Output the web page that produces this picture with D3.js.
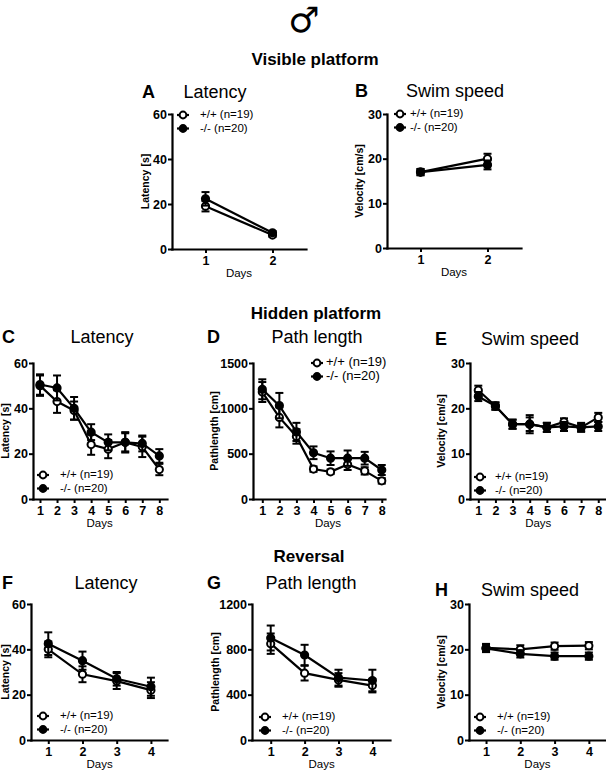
<!DOCTYPE html>
<html>
<head>
<meta charset="utf-8">
<script src="https://cdn.jsdelivr.net/npm/d3@7"></script>
<style>
body { margin: 0; background: #fff; }
text { font-family: "Liberation Sans", Arial, Helvetica, sans-serif; fill: #000; }
</style>
</head>
<body>
<div id="chart"></div>
<script>
// days
var days2 = [1, 2],
    days4 = [1, 2, 3, 4],
    days8 = [1, 2, 3, 4, 5, 6, 7, 8];

var legendLabels = ["+/+ (n=19)", "-/- (n=20)"];

// A - visible platform latency
var visLatWT = [19, 6.2],   visLatWTErr = [2.3, 0.8];
var visLatKO = [22.3, 7.2], visLatKOErr = [3, 0.8];
// B - visible platform swim speed
var visSpdWT = [17, 20],    visSpdWTErr = [0.7, 1.1];
var visSpdKO = [17, 18.6],  visSpdKOErr = [0.7, 1];
// C - hidden platform latency
var hidLatWT = [50, 43, 39, 24, 22, 25, 23, 13],     hidLatWTErr = [4.5, 5, 4, 4.5, 4, 4.5, 4.5, 2.5];
var hidLatKO = [50.5, 49, 40, 29.5, 25, 25, 24.5, 19], hidLatKOErr = [4.5, 5.5, 5, 3.5, 3.5, 4, 3.5, 3];
// D - hidden platform path length
var hidPathWT = [1180, 900, 690, 330, 300, 380, 310, 200],  hidPathWTErr = [110, 110, 80, 30, 25, 60, 40, 30];
var hidPathKO = [1210, 1030, 740, 510, 450, 450, 450, 320], hidPathKOErr = [110, 140, 100, 70, 75, 85, 70, 55];
// E - hidden platform swim speed
var hidSpdWT = [24, 20.5, 16.5, 16.5, 15.8, 17, 15.8, 18],   hidSpdWTErr = [1, 0.8, 1, 1.5, 1, 0.8, 0.8, 1];
var hidSpdKO = [22.6, 20.5, 16.5, 16.5, 15.8, 16, 15.8, 16], hidSpdKOErr = [1, 0.8, 1, 2, 1, 1, 1, 1];
// F - reversal latency
var revLatWT = [40, 29, 26, 22],     revLatWTErr = [3.5, 3.5, 3.5, 3.5];
var revLatKO = [42.5, 35, 27, 23.5], revLatKOErr = [5, 4, 3, 4];
// G - reversal path length
var revPathWT = [850, 590, 530, 480], revPathWTErr = [90, 65, 60, 60];
var revPathKO = [900, 750, 550, 525], revPathKOErr = [110, 90, 70, 95];
// H - reversal swim speed
var revSpdWT = [20.3, 20, 20.7, 20.8], revSpdWTErr = [0.9, 0.9, 0.8, 0.8];
var revSpdKO = [20.2, 19, 18.5, 18.5], revSpdKOErr = [0.8, 0.8, 0.8, 0.8];

// y tick labels
var ticksLat = [0, 20, 40, 60],
    ticksSpd = [0, 10, 20, 30],
    ticksHidPath = [0, 500, 1000, 1500],
    ticksRevPath = [0, 400, 800, 1200];

var w = 606, h = 772;

var svg = d3.select("#chart")
    .append("svg")
    .attr("width", w)
    .attr("height", h);

// male symbol and section headers
svg.append("text").text("\u2642")
    .attr("x", 304).attr("y", 32)
    .attr("text-anchor", "middle")
    .style("font-family", "DejaVu Sans")
    .style("font-size", "35px");

var headers = [
    { t: "Visible platform", x: 315, y: 65 },
    { t: "Hidden platform", x: 316, y: 319 },
    { t: "Reversal", x: 309, y: 562 }
];
svg.selectAll(".hdr").data(headers).enter().append("text")
    .attr("class", "hdr")
    .attr("x", function (d) { return d.x; })
    .attr("y", function (d) { return d.y; })
    .attr("text-anchor", "middle")
    .style("font-weight", "bold")
    .style("font-size", "17px")
    .text(function (d) { return d.t; });

// panel layout
var panels = [
    { letter: "A", title: "Latency", ylab: "Latency [s]", days: days2, yticks: ticksLat, yd: [0, 60],
      wt: visLatWT, wtErr: visLatWTErr, ko: visLatKO, koErr: visLatKOErr,
      x0: 172, x1: 306, yt: 114, yb: 249, xd: [0.5, 2.5], dx: 0,
      lx: 142, tx: 215, ty: 98, labx: 146, leg: [183, 115, 200, 11.5] },
    { letter: "B", title: "Swim speed", ylab: "Velocity [cm/s]", days: days2, yticks: ticksSpd, yd: [0, 30],
      wt: visSpdWT, wtErr: visSpdWTErr, ko: visSpdKO, koErr: visSpdKOErr,
      x0: 387, x1: 521, yt: 114, yb: 248, xd: [0.5, 2.5], dx: 0,
      lx: 355, tx: 455, ty: 97, labx: 360, leg: [400, 114, 410, 11.5] },
    { letter: "C", title: "Latency", ylab: "Latency [s]", days: days8, yticks: ticksLat, yd: [0, 60],
      wt: hidLatWT, wtErr: hidLatWTErr, ko: hidLatKO, koErr: hidLatKOErr,
      x0: 33, x1: 167, yt: 363, yb: 499, xd: [0.59, 8.45], dx: 0,
      lx: 2, tx: 102, ty: 343, labx: 6.5, leg: [43, 475, 60, 11.5] },
    { letter: "D", title: "Path length", ylab: "Pathlength [cm]", days: days8, yticks: ticksHidPath, yd: [0, 1500],
      wt: hidPathWT, wtErr: hidPathWTErr, ko: hidPathKO, koErr: hidPathKOErr,
      x0: 253, x1: 385, yt: 363, yb: 499, xd: [0.455, 8.19], dx: 6,
      lx: 207, tx: 317, ty: 343, labx: 215, leg: [317, 363, 326, 13] },
    { letter: "E", title: "Swim speed", ylab: "Velocity [cm/s]", days: days8, yticks: ticksSpd, yd: [0, 30],
      wt: hidSpdWT, wtErr: hidSpdWTErr, ko: hidSpdKO, koErr: hidSpdKOErr,
      x0: 470, x1: 607, yt: 363, yb: 499, xd: [0.516, 8.51], dx: 0,
      lx: 435, tx: 530, ty: 345, labx: 442, leg: [480, 477, 495, 11.5] },
    { letter: "F", title: "Latency", ylab: "Latency [s]", days: days4, yticks: ticksLat, yd: [0, 60],
      wt: revLatWT, wtErr: revLatWTErr, ko: revLatKO, koErr: revLatKOErr,
      x0: 31, x1: 167, yt: 604, yb: 740, xd: [0.495, 4.47], dx: 0,
      lx: 2, tx: 106, ty: 589, labx: 6.5, leg: [43, 716, 60, 11.5] },
    { letter: "G", title: "Path length", ylab: "Pathlength [cm]", days: days4, yticks: ticksRevPath, yd: [0, 1200],
      wt: revPathWT, wtErr: revPathWTErr, ko: revPathKO, koErr: revPathKOErr,
      x0: 252, x1: 390, yt: 604, yb: 740, xd: [0.448, 4.52], dx: 0,
      lx: 207, tx: 311, ty: 589, labx: 216, leg: [265, 717, 282, 11.5] },
    { letter: "H", title: "Swim speed", ylab: "Velocity [cm/s]", days: days4, yticks: ticksSpd, yd: [0, 30],
      wt: revSpdWT, wtErr: revSpdWTErr, ko: revSpdKO, koErr: revSpdKOErr,
      x0: 469, x1: 606, yt: 604, yb: 740, xd: [0.503, 4.5], dx: 0,
      lx: 435, tx: 530, ty: 596, labx: 442, leg: [480, 717, 497, 11.5] }
];

function drawSeries(g, p, xScale, yScale, vals, errs, open) {
    var pts = p.days.map(function (d, i) { return { x: d, y: vals[i], e: errs[i] }; });

    g.append("path")
        .datum(pts)
        .attr("fill", "none")
        .attr("stroke", "black")
        .attr("stroke-width", 2.2)
        .attr("d", d3.line()
            .x(function (d) { return xScale(d.x); })
            .y(function (d) { return yScale(d.y); }));

    var eb = g.selectAll(null).data(pts).enter().append("g");
    eb.append("line")
        .attr("x1", function (d) { return xScale(d.x); })
        .attr("x2", function (d) { return xScale(d.x); })
        .attr("y1", function (d) { return yScale(d.y - d.e); })
        .attr("y2", function (d) { return yScale(d.y + d.e); })
        .attr("stroke", "black").attr("stroke-width", 2);
    [-1, 1].forEach(function (s) {
        eb.append("line")
            .attr("x1", function (d) { return xScale(d.x) - 4; })
            .attr("x2", function (d) { return xScale(d.x) + 4; })
            .attr("y1", function (d) { return yScale(d.y + s * d.e); })
            .attr("y2", function (d) { return yScale(d.y + s * d.e); })
            .attr("stroke", "black").attr("stroke-width", 2);
    });

    g.selectAll(null).data(pts).enter().append("circle")
        .attr("cx", function (d) { return xScale(d.x); })
        .attr("cy", function (d) { return yScale(d.y); })
        .attr("r", 3.6)
        .attr("fill", open ? "white" : "black")
        .attr("stroke", "black")
        .attr("stroke-width", 2);
}

panels.forEach(function (p) {
    var g = svg.append("g");
    var xScale = d3.scaleLinear().domain(p.xd).range([p.x0, p.x1]);
    var yScale = d3.scaleLinear().domain(p.yd).range([p.yb, p.yt]);

    // letter and title
    g.append("text").text(p.letter)
        .attr("x", p.lx).attr("y", p.ty)
        .style("font-weight", "bold").style("font-size", "18px");
    g.append("text").text(p.title)
        .attr("x", p.tx).attr("y", p.ty)
        .attr("text-anchor", "middle")
        .style("font-size", "18px");

    // axes
    var yAxis = d3.axisLeft(yScale).tickValues(p.yticks).tickFormat(d3.format("d"))
        .tickSize(4).tickSizeOuter(0).tickPadding(1);
    var xAxis = d3.axisBottom(xScale).tickValues(p.days).tickFormat(d3.format("d"))
        .tickSize(4).tickSizeOuter(0).tickPadding(3);

    var ya = g.append("g").attr("transform", "translate(" + p.x0 + ",0)").call(yAxis);
    var xa = g.append("g").attr("transform", "translate(0," + p.yb + ")").call(xAxis);
    [ya, xa].forEach(function (a) {
        a.select(".domain").attr("stroke-width", 2.2).attr("stroke-linecap", "square");
        a.selectAll(".tick line").attr("stroke-width", 2);
        a.selectAll(".tick text")
            .attr("font-family", null)
            .attr("font-size", null)
            .style("font-weight", "bold")
            .style("font-size", "12.5px");
    });

    g.append("text").text(p.ylab)
        .attr("transform", "translate(" + p.labx + "," + (p.yt + p.yb) / 2 + ") rotate(-90)")
        .attr("text-anchor", "middle")
        .attr("dominant-baseline", "middle")
        .style("font-weight", "bold")
        .style("font-size", "10.5px");

    g.append("text").text("Days")
        .attr("x", p.dx + xScale(d3.mean(p.days.length > 2 ? [p.days[0], p.days[p.days.length - 1]] : p.xd)))
        .attr("y", p.yb + 28)
        .attr("text-anchor", "middle")
        .style("font-size", "11.5px");

    // series: +/+ open, -/- filled
    drawSeries(g, p, xScale, yScale, p.wt, p.wtErr, true);
    drawSeries(g, p, xScale, yScale, p.ko, p.koErr, false);

    // legend
    legendLabels.forEach(function (lab, i) {
        var ly = p.leg[1] + i * 13.5;
        g.append("line")
            .attr("x1", p.leg[0] - 6).attr("x2", p.leg[0] + 6)
            .attr("y1", ly).attr("y2", ly)
            .attr("stroke", "black").attr("stroke-width", 2.2);
        g.append("circle")
            .attr("cx", p.leg[0]).attr("cy", ly).attr("r", 3.4)
            .attr("fill", i === 0 ? "white" : "black")
            .attr("stroke", "black").attr("stroke-width", 2);
        g.append("text").text(lab)
            .attr("x", p.leg[2]).attr("y", ly)
            .attr("dominant-baseline", "middle")
            .style("font-size", p.leg[3] + "px");
    });
});
</script>
</body>
</html>
